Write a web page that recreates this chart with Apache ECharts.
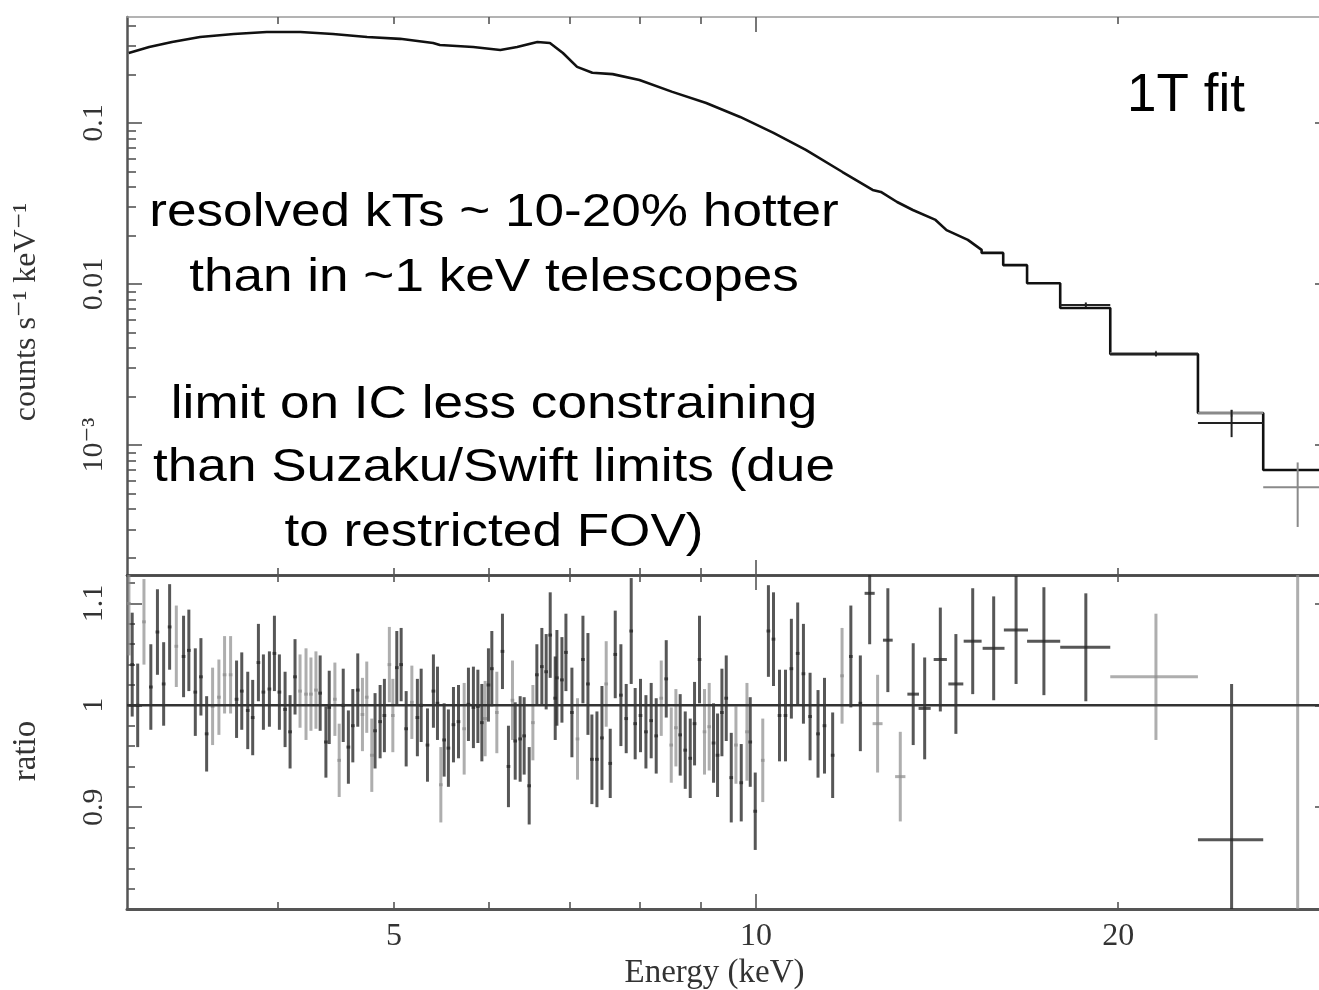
<!DOCTYPE html>
<html>
<head>
<meta charset="utf-8">
<script src="https://cdn.jsdelivr.net/npm/echarts@6/dist/echarts.min.js"></script>
<style>html,body{margin:0;padding:0;background:#fff}#c{width:1319px;height:990px}</style>
</head>
<body>
<div id="c"></div>
<script>
// ---------------- data ----------------
const energyRange = [3, 30];           // keV
const countsRange = [1.56e-4, 0.455];  // counts s^-1 keV^-1
const ratioRange = [0.8, 1.128];

const energyMajorTicks = [10];
const energyMinorTicks = [4, 5, 6, 7, 8, 9, 20, 30];
const energyTickLabels = [5, 10, 20];

const countsMajorTicks = [0.1, 0.01, 0.001];
const countsTickLabels = ['0.1', '0.01', '10\u207B\u00B3'];
const countsMinorTicks = [0.4, 0.3, 0.2, 0.09, 0.08, 0.07, 0.06, 0.05, 0.04, 0.03, 0.02,
  0.009, 0.008, 0.007, 0.006, 0.005, 0.004, 0.003, 0.002,
  0.0009, 0.0008, 0.0007, 0.0006, 0.0005, 0.0004, 0.0003, 0.0002];

const ratioMajorTicks = [0.9, 1, 1.1];
const ratioTickLabels = ['0.9', '1', '1.1'];
const ratioMinorTicks = [0.82, 0.84, 0.86, 0.88, 0.92, 0.94, 0.96, 0.98, 1.02, 1.04, 1.06, 1.08, 1.12];

// folded model, smooth (densely binned) part: [E keV, counts]
const modelCurve = [
  [3.01, 0.272], [3.13, 0.296], [3.27, 0.318], [3.45, 0.342], [3.68, 0.357], [3.92, 0.367],
  [4.18, 0.367], [4.45, 0.357], [4.75, 0.342], [5.06, 0.333], [5.39, 0.314], [5.46, 0.305],
  [5.82, 0.296], [6.13, 0.284], [6.33, 0.296], [6.58, 0.318], [6.74, 0.314], [6.91, 0.272],
  [7.10, 0.223], [7.31, 0.205], [7.60, 0.201], [8.00, 0.185], [8.52, 0.156], [9.09, 0.133],
  [9.70, 0.109], [10.34, 0.0867], [11.0, 0.0680], [11.8, 0.0496], [12.5, 0.0384], [12.7, 0.0373],
  [13.1, 0.0323], [13.5, 0.0288], [14.1, 0.0250], [14.4, 0.0216], [15.0, 0.0188], [15.4, 0.0163]
];
// wide bins at high energy: [E low, E high, model counts]
const modelBins = [
  [15.4, 16.05, 0.0156], [16.05, 16.8, 0.0131], [16.8, 17.9, 0.0101], [17.9, 19.7, 0.0071],
  [19.7, 23.3, 0.00367], [23.3, 26.4, 0.00158], [26.4, 30, 0.00070]
];
// spectrum data points in wide bins: [E, counts, low, high, half width keV]
const spectrumDark = [
  [18.8, 0.00741, 0.00715, 0.00768, 0.9], [21.5, 0.00367, 0.00355, 0.00380, 1.8],
  [24.85, 0.00137, 0.00112, 0.00165, 1.55]
];
const spectrumLight = [
  [21.5, 0.00372, 0.00360, 0.00385, 1.8], [24.85, 0.00158, 0.00150, 0.00166, 1.55],
  [28.2, 0.000548, 0.00031, 0.00078, 1.8]
];

// ratio data: [E keV, ratio, error, (half width keV)]
const ratioDark = [
  [3.030, 1.040, 0.051], [3.062, 1.000, 0.041], [3.140, 1.018, 0.042], [3.180, 1.072, 0.042],
  [3.218, 1.021, 0.041], [3.255, 1.077, 0.042], [3.343, 1.048, 0.040], [3.377, 1.054, 0.040],
  [3.419, 1.013, 0.043], [3.456, 1.028, 0.038], [3.494, 0.972, 0.037], [3.700, 1.006, 0.038],
  [3.737, 1.014, 0.038], [3.780, 0.995, 0.038], [3.816, 0.988, 0.037], [3.858, 1.042, 0.038],
  [3.895, 1.013, 0.037], [3.940, 1.016, 0.037], [3.978, 1.051, 0.037], [4.016, 1.013, 0.037],
  [4.060, 0.996, 0.037], [4.099, 0.974, 0.036], [4.138, 1.028, 0.037], [4.342, 1.012, 0.037],
  [4.390, 0.964, 0.035], [4.418, 0.998, 0.036], [4.538, 1.000, 0.036],
  [4.583, 0.959, 0.036], [4.622, 0.980, 0.036], [4.666, 1.015, 0.036], [4.823, 0.975, 0.037],
  [4.870, 0.984, 0.036], [4.910, 0.990, 0.036], [5.028, 1.037, 0.036], [5.070, 1.040, 0.036],
  [5.119, 0.977, 0.037], [5.230, 0.988, 0.038], [5.268, 1.000, 0.036], [5.332, 0.961, 0.036],
  [5.393, 1.014, 0.036], [5.435, 1.002, 0.036], [5.505, 0.966, 0.036], [5.550, 0.958, 0.038],
  [5.604, 0.981, 0.037], [5.658, 0.984, 0.036], [5.767, 1.001, 0.036], [5.822, 0.998, 0.040],
  [5.872, 0.999, 0.036], [5.917, 0.983, 0.038], [5.992, 1.020, 0.036], [6.031, 1.036, 0.037],
  [6.155, 1.053, 0.037], [6.226, 0.940, 0.040], [6.307, 0.965, 0.038], [6.367, 0.967, 0.042],
  [6.416, 0.970, 0.038], [6.478, 0.921, 0.038], [6.574, 1.030, 0.030], [6.637, 1.038, 0.038],
  [6.692, 1.033, 0.037], [6.744, 1.069, 0.042], [6.809, 1.007, 0.041],
  [6.831, 1.027, 0.047], [6.897, 1.025, 0.042], [6.950, 1.052, 0.038], [7.030, 0.993, 0.044],
  [7.180, 1.045, 0.043], [7.249, 1.021, 0.050], [7.304, 0.947, 0.044], [7.375, 0.947, 0.047],
  [7.446, 0.968, 0.051], [7.565, 0.943, 0.034], [7.638, 1.050, 0.043], [7.721, 1.010, 0.050],
  [7.800, 0.987, 0.034], [7.875, 1.073, 0.052], [7.935, 0.982, 0.035], [8.016, 0.990, 0.036],
  [8.100, 0.974, 0.036], [8.182, 0.985, 0.037], [8.261, 0.970, 0.037], [8.421, 1.026, 0.038],
  [8.649, 0.971, 0.040], [8.733, 0.956, 0.038], [8.817, 0.948, 0.039], [8.890, 0.982, 0.041],
  [8.975, 1.045, 0.043], [9.219, 0.963, 0.039], [9.290, 0.951, 0.041], [9.368, 0.993, 0.043],
  [9.446, 1.007, 0.042], [9.537, 0.929, 0.044], [9.721, 0.924, 0.038], [9.890, 0.964, 0.044],
  [9.985, 0.896, 0.038], [10.24, 1.073, 0.045], [10.34, 1.065, 0.046],
  [10.46, 0.990, 0.045], [10.58, 0.990, 0.045], [10.70, 1.036, 0.049], [10.83, 1.051, 0.050],
  [10.95, 1.031, 0.049], [11.09, 0.989, 0.043], [11.26, 0.972, 0.043], [11.40, 0.980, 0.047],
  [11.58, 0.951, 0.042], [11.99, 1.048, 0.050], [12.21, 1.002, 0.047],
  [12.43, 1.110, 0.050, 0.12], [12.87, 1.064, 0.051, 0.12], [13.51, 1.011, 0.050, 0.15],
  [13.81, 0.997, 0.050, 0.16], [14.23, 1.045, 0.051, 0.18], [14.66, 1.021, 0.049, 0.21],
  [15.14, 1.063, 0.052, 0.26], [15.76, 1.056, 0.051, 0.33], [16.45, 1.074, 0.053, 0.38],
  [17.35, 1.063, 0.053, 0.55], [18.8, 1.057, 0.053, 0.9], [24.85, 0.868, 0.153, 1.55]
];
const ratioLight = [
  [3.011, 1.100, 0.051], [3.099, 1.082, 0.042], [3.297, 1.058, 0.040], [3.534, 0.999, 0.038],
  [3.577, 1.008, 0.037], [3.616, 1.030, 0.038], [3.658, 1.030, 0.038], [4.178, 1.014, 0.036],
  [4.226, 1.011, 0.045], [4.266, 1.011, 0.036], [4.307, 1.015, 0.038], [4.466, 1.006, 0.036],
  [4.503, 0.946, 0.036], [4.708, 0.991, 0.036], [4.747, 1.008, 0.035], [4.793, 0.951, 0.036],
  [4.957, 1.040, 0.037], [4.990, 0.990, 0.036], [5.175, 1.003, 0.036], [5.470, 0.922, 0.037],
  [5.720, 0.977, 0.045], [5.954, 0.987, 0.037], [6.089, 0.993, 0.040], [6.274, 1.005, 0.039],
  [6.524, 0.983, 0.037], [7.106, 0.967, 0.040], [7.507, 1.021, 0.042], [8.341, 1.007, 0.037],
  [8.502, 0.961, 0.037], [8.578, 0.978, 0.038], [9.061, 0.974, 0.042], [9.143, 0.979, 0.043],
  [9.623, 0.961, 0.038], [9.828, 0.974, 0.048], [10.13, 0.946, 0.041], [11.79, 1.029, 0.047],
  [12.62, 0.982, 0.048, 0.12], [13.18, 0.930, 0.044, 0.13], [21.5, 1.028, 0.062, 1.8],
  [28.2, 0.780, 0.450, 1.8]
];

const annotationLines = [
  'resolved kTs ~ 10-20% hotter',
  'than in ~1 keV telescopes',
  'limit on IC less constraining',
  'than Suzaku/Swift limits (due',
  'to restricted FOV)'
];
const fitLabel = '1T fit';

// ---------------- chart ----------------
const lg = Math.log10;
const chart = echarts.init(document.getElementById('c'), null, {renderer: 'canvas'});

const serif = "'Liberation Serif','DejaVu Serif',serif";
const sans = "'Liberation Sans','Arial','Helvetica',sans-serif";
const labelColor = '#333';
const tickColor = '#555';

function xAx(grid, pos, ticks, len, line, extra) {
  return Object.assign({
    type: 'value', gridIndex: grid, position: pos,
    min: lg(energyRange[0]), max: lg(energyRange[1]),
    axisLine: line ? {show: true, onZero: false, lineStyle: line} : {show: false, onZero: false},
    axisTick: {show: true, inside: true, length: len, customValues: ticks.map(lg),
      lineStyle: {color: tickColor, width: 1.6}},
    axisLabel: {show: false},
    splitLine: {show: false}
  }, extra || {});
}
function yAx(grid, pos, range, ticks, len, line, isLog, extra) {
  const f = isLog ? lg : (v => v);
  return Object.assign({
    type: 'value', gridIndex: grid, position: pos,
    min: f(range[0]), max: f(range[1]),
    axisLine: line ? {show: true, onZero: false, lineStyle: line} : {show: false, onZero: false},
    axisTick: {show: true, inside: true, length: len, customValues: ticks.map(f),
      lineStyle: {color: tickColor, width: 1.6}},
    axisLabel: {show: false},
    splitLine: {show: false}
  }, extra || {});
}

const frameMain = {color: '#4a4a4a', width: 2.5};
const frameTop = {color: '#9a9a9a', width: 1.6};

const xAxes = [
  xAx(0, 'bottom', energyMajorTicks, 15, frameMain),
  xAx(0, 'bottom', energyMinorTicks, 7, null),
  xAx(0, 'top', energyMajorTicks, 15, frameTop),
  xAx(0, 'top', energyMinorTicks, 7, null),
  xAx(1, 'top', energyMajorTicks, 15, frameMain),
  xAx(1, 'top', energyMinorTicks, 7, null),
  xAx(1, 'bottom', energyMajorTicks, 15, {color: '#555', width: 3}, {
    axisLabel: {show: true, customValues: energyTickLabels.map(lg), margin: 12,
      fontFamily: serif, fontSize: 32, color: labelColor,
      formatter: v => String(Math.round(Math.pow(10, v)))},
    name: 'Energy (keV)', nameLocation: 'middle', nameGap: 48,
    nameTextStyle: {fontFamily: serif, fontSize: 33, color: labelColor, padding: [0, 28, 0, 0]}
  }),
  xAx(1, 'bottom', energyMinorTicks, 7, null)
];

function fmtLookup(vals, labels, f) {
  return v => {
    for (let i = 0; i < vals.length; i++) if (Math.abs(f(vals[i]) - v) < 1e-6) return labels[i];
    return '';
  };
}

const yAxes = [
  yAx(0, 'left', countsRange, countsMajorTicks, 15, {color: '#555', width: 2.5}, true, {
    axisLabel: {show: true, customValues: countsMajorTicks.map(lg), rotate: 90, margin: 18,
      fontFamily: serif, fontSize: 30, color: labelColor,
      formatter: fmtLookup(countsMajorTicks, countsTickLabels, lg)},
    name: 'counts s\u207B\u00B9 keV\u207B\u00B9', nameLocation: 'middle', nameRotate: 90, nameGap: 84,
    nameTextStyle: {fontFamily: serif, fontSize: 32, color: labelColor, padding: [0, 32, 0, 0]}
  }),
  yAx(0, 'left', countsRange, countsMinorTicks, 9, null, true),
  yAx(0, 'right', countsRange, countsMajorTicks, 15, {color: '#555', width: 2.5}, true),
  yAx(0, 'right', countsRange, countsMinorTicks, 9, null, true),
  yAx(1, 'left', ratioRange, ratioMajorTicks, 15, {color: '#555', width: 2.5}, false, {
    axisLabel: {show: true, customValues: ratioMajorTicks, rotate: 90, margin: 18,
      fontFamily: serif, fontSize: 30, color: labelColor,
      formatter: fmtLookup(ratioMajorTicks, ratioTickLabels, v => v)},
    name: 'ratio', nameLocation: 'middle', nameRotate: 90, nameGap: 84,
    nameTextStyle: {fontFamily: serif, fontSize: 33, color: labelColor, padding: [0, 18, 0, 0]}
  }),
  yAx(1, 'left', ratioRange, ratioMinorTicks, 8, null, false),
  yAx(1, 'right', ratioRange, ratioMajorTicks, 15, {color: '#555', width: 2.5}, false),
  yAx(1, 'right', ratioRange, ratioMinorTicks, 8, null, false)
];

// error-bar custom series: item = [xc, xlo, xhi, yc, ylo, yhi]
function errSeries(items, xi, yi, color, width, z) {
  return {
    type: 'custom', xAxisIndex: xi, yAxisIndex: yi, clip: true, z: z,
    silent: true, animation: false,
    encode: {x: 0, y: 3},
    data: items,
    renderItem: (params, api) => {
      const c = api.value(0), l = api.value(1), r = api.value(2);
      const y = api.value(3), yl = api.value(4), yh = api.value(5);
      const pl = api.coord([l, y]), pr = api.coord([r, y]);
      const pt = api.coord([c, yh]), pb = api.coord([c, yl]);
      const st = {stroke: color, lineWidth: width, lineCap: 'butt'};
      return {type: 'group', children: [
        {type: 'line', shape: {x1: pl[0], y1: pl[1], x2: pr[0], y2: pr[1]}, style: st},
        {type: 'line', shape: {x1: pt[0], y1: pt[1], x2: pb[0], y2: pb[1]}, style: st}
      ]};
    }
  };
}
function ratioItems(arr) {
  return arr.map(d => {
    const w = d.length > 3 ? d[3] : d[0] * 0.0035;
    return [lg(d[0]), lg(d[0] - w), lg(d[0] + w), d[1], d[1] - d[2], d[1] + d[2]];
  });
}
function specItems(arr) {
  return arr.map(d => [lg(d[0]), lg(d[0] - d[4]), lg(d[0] + d[4]), lg(d[1]), lg(d[2]), lg(d[3])]);
}

const modelLine = modelCurve.map(d => [lg(d[0]), lg(d[1])]);
modelBins.forEach(b => { modelLine.push([lg(b[0]), lg(b[2])]); modelLine.push([lg(b[1]), lg(b[2])]); });

const lineText = (t, x, y, size, sx) => ({
  type: 'text', x: x, y: y, scaleX: sx, z: 100,
  style: {text: t, fontFamily: sans, fontSize: size, fill: '#000',
    align: 'center', verticalAlign: 'middle', textAlign: 'center', textVerticalAlign: 'middle'}
});
const lineY = [213, 278, 405, 468, 533];

chart.setOption({
  animation: false,
  backgroundColor: '#fff',
  grid: [
    {left: 127, right: -11, top: 17, height: 558, outerBoundsMode: 'none', containLabel: false},
    {left: 127, right: -11, top: 575, height: 334, outerBoundsMode: 'none', containLabel: false}
  ],
  xAxis: xAxes,
  yAxis: yAxes,
  series: [
    {type: 'line', xAxisIndex: 0, yAxisIndex: 0, data: modelLine, showSymbol: false,
      lineStyle: {color: '#111', width: 2.6}, z: 3, silent: true, clip: true},
    errSeries(specItems(spectrumLight), 0, 0, '#8a8a8a', 2, 4),
    errSeries(specItems(spectrumDark), 0, 0, '#222', 2, 5),
    errSeries(ratioItems(ratioLight), 6, 4, 'rgba(140,140,140,0.7)', 3, 3),
    errSeries(ratioItems(ratioDark), 6, 4, 'rgba(40,40,40,0.78)', 3, 4),
    {type: 'line', xAxisIndex: 6, yAxisIndex: 4, showSymbol: false, silent: true, z: 6,
      data: [[lg(energyRange[0]), 1], [lg(energyRange[1]), 1]],
      lineStyle: {color: '#333', width: 2.5}}
  ],
  graphic: annotationLines.map((t, i) => lineText(t, 494, lineY[i], 47, 1.13))
    .concat([lineText(fitLabel, 1186, 96, 53, 1)])
});
</script>
</body>
</html>
